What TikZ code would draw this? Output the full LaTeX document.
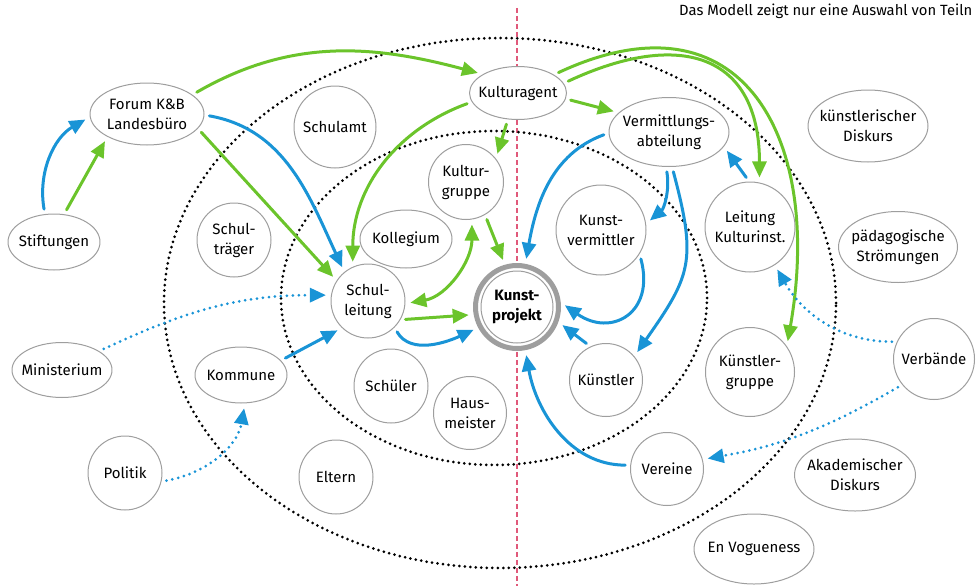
\documentclass[tikz,border=0pt]{standalone}
\usepackage{fontspec}
\setmainfont{Fira Sans}
\usepackage{tikz}
\usetikzlibrary{arrows.meta,shapes.geometric}
\definecolor{arrblue}{rgb}{0.10,0.58,0.84}
\definecolor{arrgreen}{rgb}{0.42,0.77,0.17}
\definecolor{ringgray}{rgb}{0.62,0.62,0.62}
\definecolor{dashred}{rgb}{0.88,0.35,0.48}
\tikzset{
  rnode/.style={circle,draw=ringgray,line width=1pt,fill=white,align=center,inner sep=0pt,minimum size=74pt,font=\fontsize{15}{20}\selectfont},
  enode/.style={ellipse,draw=ringgray,line width=1pt,fill=white,align=center,inner xsep=-15pt,inner ysep=0pt,font=\fontsize{15}{20}\selectfont},
  pnode/.style={circle,draw=ringgray,line width=5pt,fill=white,align=center,inner sep=0pt,minimum size=83pt,font=\fontsize{15}{20}\selectfont\bfseries},
  ringdots/.style={line width=3pt,dash pattern=on 0pt off 5.5pt},
  garrow/.style={draw=arrgreen,line width=3pt,->,shorten <=5pt,shorten >=5pt},
  barrow/.style={draw=arrblue,line width=3pt,->,shorten <=5pt,shorten >=5pt},
  bdots/.style={barrow,dash pattern=on 0pt off 6pt}
}
\begin{document}
\begin{tikzpicture}[line cap=round,line join=round,>={Triangle[length=16pt,width=14pt]},x=1pt,y=1pt]
\useasboundingbox (0,0) rectangle (976,-586);
% Mittellinie und Ringe
\draw [dashred,line width=1.2pt,line cap=butt,dash pattern=on 5pt off 3pt] (517,-8) -- (517,-586);
\draw [ringdots] (500,-303) ellipse (336 and 265);
\draw [ringdots] (494,-298) ellipse (213 and 167);
% Beteiligte
\node [enode,minimum width=114pt,minimum height=62pt] (forum) at (147,-114) {Forum K\&B\\Landesbüro};
\node [enode,minimum width=92pt,minimum height=56pt] (stift) at (54,-242) {Stiftungen};
\node [rnode,minimum size=82pt] (schulamt) at (335,-127) {Schulamt};
\node [rnode] (schultr) at (234,-240) {Schul-\\träger};
\node [enode,minimum width=97pt,minimum height=53pt] (kagent) at (518,-93) {Kulturagent};
\node [rnode,minimum size=75pt] (kgruppe) at (466,-182) {Kultur-\\gruppe};
\node [enode,minimum width=92pt,minimum height=58pt] (kolleg) at (406,-239) {Kollegium};
\node [rnode] (sleitung) at (368,-301) {Schul-\\leitung};
\node [pnode] (kprojekt) at (517,-307) {Kunst-\\projekt};
\node [enode,minimum width=120pt,minimum height=69pt] (vabt) at (669,-132) {Vermittlungs-\\abteilung};
\node [rnode,minimum size=90pt] (kverm) at (601,-230) {Kunst-\\vermittler};
\node [rnode,minimum size=90pt] (leitung) at (750,-227) {Leitung\\Kulturinst.};
\node [rnode,minimum size=73pt] (kuenstler) at (606,-380) {Künstler};
\node [rnode] (schueler) at (391,-386) {Schüler};
\node [rnode,minimum size=73pt] (hausm) at (470,-413) {Haus-\\meister};
\node [rnode] (eltern) at (336,-477) {Eltern};
\node [enode,minimum width=92pt,minimum height=56pt] (kommune) at (241,-375) {Kommune};
\node [enode,minimum width=100pt,minimum height=55pt] (minist) at (62,-370) {Ministerium};
\node [rnode] (politik) at (125,-473) {Politik};
\node [rnode,minimum size=73pt] (vereine) at (667,-469) {Vereine};
\node [rnode,minimum size=89pt] (kgr) at (750,-372) {Künstler-\\gruppe};
\node [rnode,minimum size=81pt] (verb) at (934,-359) {Verbände};
\node [enode,minimum width=121pt,minimum height=72pt] (akad) at (855,-475) {Akademischer\\Diskurs};
\node [enode,minimum width=120pt,minimum height=70pt] (vogue) at (754,-549) {En Vogueness};
\node [enode,minimum width=120pt,minimum height=72pt] (kdisk) at (868,-126) {künstlerischer\\Diskurs};
\node [enode,minimum width=119pt,minimum height=71pt] (paed) at (898,-247) {pädagogische\\Strömungen};
\draw [ringgray,line width=1pt] (kprojekt.center) circle (36);
\node [anchor=west,inner sep=0pt,font=\fontsize{14.8}{16}\selectfont] (hinweis) at (679,-11) {Das Modell zeigt nur eine Auswahl von Teiln};
% Verbindungen
\draw [barrow] (stift.108) to[out=100,in=210] (forum.183);
\draw [garrow] (stift.70) -- (forum.210);
\draw [garrow] (forum.23) to[out=30,in=165] (kagent.152);
\draw [barrow] (forum.359) to[out=-10,in=115] (sleitung.129);
\draw [garrow] (forum.344) -- (sleitung.147);
\draw [bdots] (minist.27) to[out=25,in=180] (sleitung.171);
\draw [barrow] (kommune.20) -- (sleitung.226);
\draw [bdots] (politik.347) to[out=10,in=260] (kommune.278);
\draw [garrow] (kagent.191) to[out=200,in=90] (sleitung.114);
\draw [garrow] (kagent.249) -- (kgruppe.38);
\draw [garrow] (kagent.353) -- (vabt.159);
\draw [garrow] (kagent.12) to[out=25,in=90,looseness=1.5] (leitung.78);
\draw [garrow] (kagent.27) to[out=25,in=80,looseness=1.5] (kgr.35);
\draw [barrow] (leitung.91) -- (vabt.345);
\draw [barrow] (vabt.181) to[out=200,in=80] (kprojekt.79);
\draw [barrow] (vabt.265) to[out=-80,in=40] (kverm.8);
\draw [barrow] (vabt.275) to[out=-75,in=55,looseness=1.3] (kuenstler.40);
\draw [barrow] (kverm.328) to[out=-75,in=-35,looseness=1.7] (kprojekt.6);
\draw [barrow] (kuenstler.115) -- (kprojekt.340);
\draw [barrow] (vereine.174) to[out=180,in=-80] (kprojekt.281);
\draw [bdots] (verb.219) to[out=210,in=10] (vereine.15);
\draw [bdots] (verb.155) to[out=180,in=-60] (leitung.303);
\draw [garrow] (sleitung.330) -- (kprojekt.190);
\draw [barrow] (sleitung.315) to[out=-60,in=205] (kprojekt.208);
\draw [garrow,<->] (sleitung.356) to[out=10,in=270] (kgruppe.279);
\draw [garrow] (kgruppe.300) -- (kprojekt.106);
\end{tikzpicture}
\end{document}
